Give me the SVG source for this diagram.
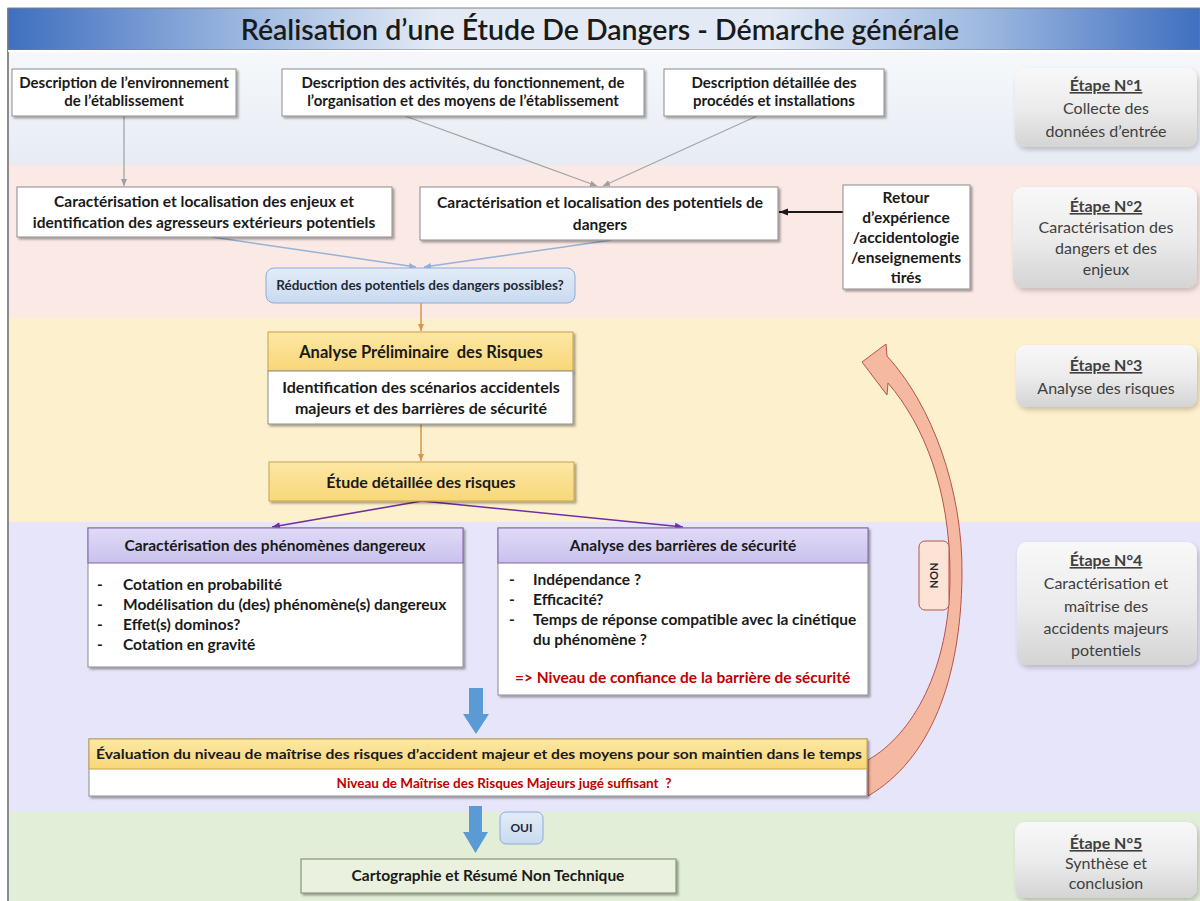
<svg xmlns="http://www.w3.org/2000/svg" width="1200" height="901" viewBox="0 0 1200 901">
<defs>
  <linearGradient id="gTitle" x1="0" y1="0" x2="1" y2="0">
    <stop offset="0" stop-color="#3f6fbf"/>
    <stop offset="0.2" stop-color="#9db8e0"/>
    <stop offset="0.36" stop-color="#e3eaf5"/>
    <stop offset="0.64" stop-color="#e3eaf5"/>
    <stop offset="0.82" stop-color="#9db8e0"/>
    <stop offset="1" stop-color="#3f6fbf"/>
  </linearGradient>
  <linearGradient id="gB1" x1="0" y1="0" x2="0" y2="1">
    <stop offset="0" stop-color="#f6f8fb"/>
    <stop offset="1" stop-color="#e7ecf4"/>
  </linearGradient>
  <linearGradient id="gStage" x1="0" y1="0" x2="0" y2="1">
    <stop offset="0" stop-color="#f8f8f8"/>
    <stop offset="0.5" stop-color="#ececec"/>
    <stop offset="1" stop-color="#d4d4d4"/>
  </linearGradient>
  <linearGradient id="gYellow" x1="0" y1="0" x2="0" y2="1">
    <stop offset="0" stop-color="#fde7a4"/>
    <stop offset="1" stop-color="#f8d778"/>
  </linearGradient>
  <linearGradient id="gLav" x1="0" y1="0" x2="0" y2="1">
    <stop offset="0" stop-color="#e0dbf7"/>
    <stop offset="1" stop-color="#c9c1ee"/>
  </linearGradient>
  <linearGradient id="gBlueBox" x1="0" y1="0" x2="0" y2="1">
    <stop offset="0" stop-color="#e3ecf7"/>
    <stop offset="1" stop-color="#c9daf0"/>
  </linearGradient>
  <filter id="sh" x="-10%" y="-20%" width="120%" height="150%">
    <feDropShadow dx="2" dy="2" stdDeviation="1.3" flood-color="#000" flood-opacity="0.35"/>
  </filter>
  <filter id="sh2" x="-10%" y="-10%" width="125%" height="130%">
    <feDropShadow dx="2" dy="3" stdDeviation="2.5" flood-color="#000" flood-opacity="0.2"/>
  </filter>
  <marker id="mGray" markerUnits="userSpaceOnUse" markerWidth="8" markerHeight="8" refX="7" refY="4" orient="auto">
    <path d="M0,1 L7,4 L0,7 Z" fill="#9e9e9e"/>
  </marker>
  <marker id="mBlue" markerUnits="userSpaceOnUse" markerWidth="8" markerHeight="8" refX="7" refY="4" orient="auto">
    <path d="M0,1 L7,4 L0,7 Z" fill="#8fb0d8"/>
  </marker>
  <marker id="mOrange" markerUnits="userSpaceOnUse" markerWidth="8" markerHeight="8" refX="7" refY="4" orient="auto">
    <path d="M0,1 L7,4 L0,7 Z" fill="#d8934c"/>
  </marker>
  <marker id="mPurple" markerUnits="userSpaceOnUse" markerWidth="9" markerHeight="9" refX="8" refY="4.5" orient="auto">
    <path d="M0,1 L8,4.5 L0,8 Z" fill="#7030a0"/>
  </marker>
  <marker id="mBlack" markerUnits="userSpaceOnUse" markerWidth="10" markerHeight="10" refX="9" refY="5" orient="auto">
    <path d="M0,1.5 L9,5 L0,8.5 Z" fill="#1a1a1a"/>
  </marker>
</defs>
<style>
  text { font-family: Lato, "Open Sans", "Liberation Sans", sans-serif; }
  .b { font-weight: 700; font-size: 15.5px; fill: #1a1a1a; text-anchor: middle; }
  .b15 { font-weight: 700; font-size: 15px; fill: #1a1a1a; text-anchor: middle; }
  .bl { font-weight: 700; font-size: 15.5px; fill: #1a1a1a; }
  .box { fill: #ffffff; stroke: #8c8c8c; stroke-width: 1; filter: url(#sh); }
  .stage { fill: url(#gStage); filter: url(#sh2); }
  .st { font-size: 16px; fill: #404040; text-anchor: middle; }
  .sth { font-weight: 700; text-decoration: underline; }
  .red { fill: #c00000; }
</style>

<!-- background bands -->
<rect x="0" y="0" width="1200" height="901" fill="#ffffff"/>
<rect x="8" y="50" width="1192" height="115" fill="url(#gB1)"/>
<rect x="8" y="165" width="1192" height="153" fill="#fbe9e5"/>
<rect x="8" y="318" width="1192" height="204" fill="#fdf0cd"/>
<rect x="8" y="522" width="1192" height="290" fill="#e7e5f9"/>
<rect x="8" y="812" width="1192" height="89" fill="#e3eed9"/>
<line x1="8" y1="8" x2="8" y2="901" stroke="#8c8c8c" stroke-width="2"/>

<!-- title -->
<g id="title">
  <rect x="8" y="8" width="1192" height="42" fill="url(#gTitle)" stroke="#7f7f7f" stroke-width="1"/>
  <line x1="8" y1="51" x2="1200" y2="51" stroke="#ffffff" stroke-width="2"/>
  <text x="600" y="40" text-anchor="middle" font-size="28.5" font-weight="600" fill="#1a1a1a">Réalisation d’une Étude De Dangers - Démarche générale</text>
</g>

<!-- connectors -->
<g id="connectors" fill="none">
  <line x1="124" y1="116" x2="124" y2="186" stroke="#a6a6a6" stroke-width="1.3" marker-end="url(#mGray)"/>
  <line x1="405" y1="116" x2="597" y2="186" stroke="#a6a6a6" stroke-width="1.3" marker-end="url(#mGray)"/>
  <line x1="757" y1="116" x2="603" y2="186" stroke="#a6a6a6" stroke-width="1.3" marker-end="url(#mGray)"/>
  <line x1="843" y1="212" x2="779" y2="212" stroke="#1a1a1a" stroke-width="2" marker-end="url(#mBlack)"/>
  <line x1="212" y1="237" x2="416" y2="267" stroke="#95b3d7" stroke-width="1.5" marker-end="url(#mBlue)"/>
  <line x1="612" y1="240" x2="424" y2="267" stroke="#95b3d7" stroke-width="1.5" marker-end="url(#mBlue)"/>
  <line x1="421" y1="303" x2="421" y2="331" stroke="#d8934c" stroke-width="1.5" marker-end="url(#mOrange)"/>
  <line x1="421" y1="424" x2="421" y2="461" stroke="#d8934c" stroke-width="1.5" marker-end="url(#mOrange)"/>
  <line x1="422" y1="501" x2="272" y2="527" stroke="#7030a0" stroke-width="1.6" marker-end="url(#mPurple)"/>
  <line x1="422" y1="501" x2="683" y2="527" stroke="#7030a0" stroke-width="1.6" marker-end="url(#mPurple)"/>
  <!-- blue block arrows -->
  <path d="M469,688 L483,688 L483,714 L489,714 L476,734 L463,714 L469,714 Z" fill="#5b9bd5"/>
  <path d="M469,806 L482,806 L482,832 L488,832 L475.5,853 L463,832 L469,832 Z" fill="#5b9bd5"/>
  <!-- NON return curved arrow -->
  <path d="M862,362 L886,344 L887,356 C932,405 963,490 962,575 C961,680 930,760 868,796 L868,760 C912,735 950,670 950,575 C950,490 924,425 888,383 L887,395 Z" fill="#f5b8a0" stroke="#b5544a" stroke-width="1"/>
</g>

<!-- stage 1 nodes -->
<g id="n-env">
  <rect class="box" x="12" y="69" width="224" height="47"/>
  <text class="b15" x="124" y="88">Description de l’environnement</text>
  <text class="b15" x="124" y="106">de l’établissement</text>
</g>
<g id="n-activites">
  <rect class="box" x="282" y="69" width="362" height="47"/>
  <text class="b15" x="463" y="88">Description des activités, du fonctionnement, de</text>
  <text class="b15" x="463" y="106">l’organisation et des moyens de l’établissement</text>
</g>
<g id="n-procedes">
  <rect class="box" x="664" y="69" width="220" height="47"/>
  <text class="b15" x="774" y="88">Description détaillée des</text>
  <text class="b15" x="774" y="106">procédés et installations</text>
</g>

<!-- stage 2 nodes -->
<g id="n-enjeux">
  <rect class="box" x="17" y="187" width="375" height="50"/>
  <text class="b" x="204" y="207">Caractérisation et localisation des enjeux et</text>
  <text class="b" x="204" y="228">identification des agresseurs extérieurs potentiels</text>
</g>
<g id="n-potentiels">
  <rect class="box" x="420" y="187" width="358" height="53"/>
  <text class="b" x="600" y="208">Caractérisation et localisation des potentiels de</text>
  <text class="b" x="600" y="230">dangers</text>
</g>
<g id="n-retour">
  <rect class="box" x="843" y="185" width="127" height="104"/>
  <text class="b" x="906" y="203">Retour</text>
  <text class="b" x="906" y="223">d’expérience</text>
  <text class="b" x="906" y="243">/accidentologie</text>
  <text class="b" x="906" y="263">/enseignements</text>
  <text class="b" x="906" y="283">tirés</text>
</g>
<g id="n-reduction">
  <rect x="266" y="268" width="309" height="35" rx="8" fill="url(#gBlueBox)" stroke="#8eaadb" stroke-width="1"/>
  <text x="420" y="290" text-anchor="middle" font-size="13.5" font-weight="700" fill="#1f2a38">Réduction des potentiels des dangers possibles?</text>
</g>

<!-- stage 3 nodes -->
<g id="n-apr">
  <rect x="268" y="332" width="305" height="39" fill="url(#gYellow)" stroke="#c8a24a" stroke-width="1" filter="url(#sh)"/>
  <text x="421" y="358" text-anchor="middle" font-size="16.5" font-weight="700" fill="#1a1a1a" xml:space="preserve">Analyse Préliminaire  des Risques</text>
  <rect class="box" x="268" y="371" width="305" height="53"/>
  <text class="b" x="421" y="393" style="font-size:16px">Identification des scénarios accidentels</text>
  <text class="b" x="421" y="414" style="font-size:16px">majeurs et des barrières de sécurité</text>
</g>
<g id="n-etude">
  <rect x="269" y="462" width="305" height="39" fill="url(#gYellow)" stroke="#c8a24a" stroke-width="1" filter="url(#sh)"/>
  <text x="421" y="488" text-anchor="middle" font-size="16" font-weight="700" fill="#1a1a1a">Étude détaillée des risques</text>
</g>

<!-- stage 4 nodes -->
<g id="n-phenomenes">
  <rect class="box" x="88" y="528" width="375" height="139"/>
  <rect x="88" y="528" width="375" height="35" fill="url(#gLav)" stroke="#8064a2" stroke-width="1"/>
  <text class="b" x="275" y="551">Caractérisation des phénomènes dangereux</text>
  <text class="bl" x="97" y="590">-</text><text class="bl" x="123" y="590">Cotation en probabilité</text>
  <text class="bl" x="97" y="610">-</text><text class="bl" x="123" y="610">Modélisation du (des) phénomène(s) dangereux</text>
  <text class="bl" x="97" y="630">-</text><text class="bl" x="123" y="630">Effet(s) dominos?</text>
  <text class="bl" x="97" y="650">-</text><text class="bl" x="123" y="650">Cotation en gravité</text>
</g>
<g id="n-barrieres">
  <rect class="box" x="498" y="528" width="370" height="167"/>
  <rect x="498" y="528" width="370" height="35" fill="url(#gLav)" stroke="#8064a2" stroke-width="1"/>
  <text class="b" x="683" y="551">Analyse des barrières de sécurité</text>
  <text class="bl" x="509" y="585">-</text><text class="bl" x="533" y="585">Indépendance ?</text>
  <text class="bl" x="509" y="605">-</text><text class="bl" x="533" y="605">Efficacité?</text>
  <text class="bl" x="509" y="625">-</text><text class="bl" x="533" y="625">Temps de réponse compatible avec la cinétique</text>
  <text class="bl" x="533" y="645">du phénomène ?</text>
  <text class="bl red" x="515" y="683">=&gt; Niveau de confiance de la barrière de sécurité</text>
</g>
<g id="n-non">
  <rect x="919" y="541" width="30" height="69" rx="6" fill="#fde3d6" stroke="#b5544a" stroke-width="1"/>
  <text transform="translate(934,575.5) rotate(90)" text-anchor="middle" dominant-baseline="central" font-size="11" font-weight="700" fill="#262626">NON</text>
</g>
<g id="n-evaluation">
  <rect class="box" x="89" y="739" width="778" height="57"/>
  <rect x="89" y="739" width="778" height="30" fill="url(#gYellow)" stroke="#c8a24a" stroke-width="1"/>
  <text x="479" y="759" text-anchor="middle" font-size="14" font-weight="700" fill="#1a1a1a" textLength="766" lengthAdjust="spacingAndGlyphs">Évaluation du niveau de maîtrise des risques d’accident majeur et des moyens pour son maintien dans le temps</text>
  <text x="504" y="788" text-anchor="middle" font-size="13.5" font-weight="700" class="red" xml:space="preserve">Niveau de Maîtrise des Risques Majeurs jugé suffisant  ?</text>
</g>

<!-- stage 5 nodes -->
<g id="n-oui">
  <rect x="500" y="812" width="43" height="32" rx="6" fill="url(#gBlueBox)" stroke="#8eaadb" stroke-width="1"/>
  <text x="521.5" y="832" text-anchor="middle" font-size="12" font-weight="700" fill="#1f2a38">OUI</text>
</g>
<g id="n-cartographie">
  <rect x="301" y="859" width="375" height="34" fill="#ebf1df" stroke="#76866a" stroke-width="1" filter="url(#sh)"/>
  <text class="b" x="488" y="881">Cartographie et Résumé Non Technique</text>
</g>

<!-- stage labels -->
<g id="etape1">
  <rect class="stage" x="1015" y="68" width="182" height="79" rx="10"/>
  <text class="st sth" x="1106" y="91">Étape N°1</text>
  <text class="st" x="1106" y="114">Collecte des</text>
  <text class="st" x="1106" y="137">données d’entrée</text>
</g>
<g id="etape2">
  <rect class="stage" x="1013" y="187" width="184" height="101" rx="10"/>
  <text class="st sth" x="1106" y="212">Étape N°2</text>
  <text class="st" x="1106" y="233">Caractérisation des</text>
  <text class="st" x="1106" y="254">dangers et des</text>
  <text class="st" x="1106" y="275">enjeux</text>
</g>
<g id="etape3">
  <rect class="stage" x="1016" y="345" width="181" height="62" rx="10"/>
  <text class="st sth" x="1106" y="371">Étape N°3</text>
  <text class="st" x="1106" y="394">Analyse des risques</text>
</g>
<g id="etape4">
  <rect class="stage" x="1017" y="542" width="180" height="123" rx="10"/>
  <text class="st sth" x="1106" y="566">Étape N°4</text>
  <text class="st" x="1106" y="589">Caractérisation et</text>
  <text class="st" x="1106" y="612">maîtrise des</text>
  <text class="st" x="1106" y="634">accidents majeurs</text>
  <text class="st" x="1106" y="656">potentiels</text>
</g>
<g id="etape5">
  <rect class="stage" x="1015" y="822" width="182" height="76" rx="10"/>
  <text class="st sth" x="1106" y="849">Étape N°5</text>
  <text class="st" x="1106" y="869">Synthèse et</text>
  <text class="st" x="1106" y="889">conclusion</text>
</g>
</svg>
